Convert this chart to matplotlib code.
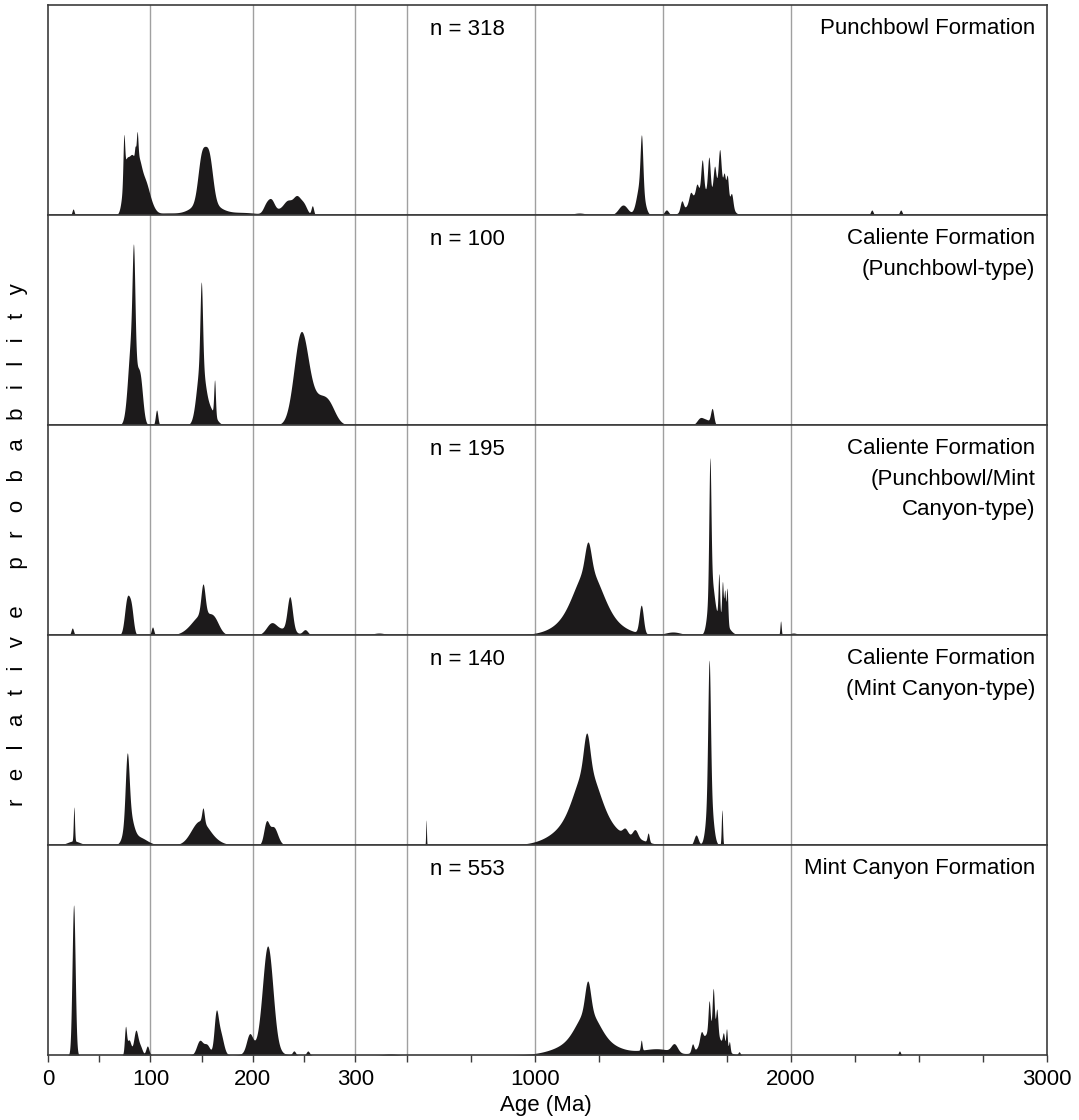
import numpy as np
import matplotlib
matplotlib.use('Agg')
import matplotlib.pyplot as plt

plt.rcParams['font.family'] = ['Liberation Sans', 'DejaVu Sans']

# peak components: age (Ma), height, spread (Ma)
punchbowl_ages = [24.5, 74, 76, 82, 85, 87, 88, 94, 100, 149.5, 153.5, 157.5, 153.5, 115, 190,
                  213, 218, 226, 234, 243, 250, 258,
                  1174, 1417, 1412, 1345, 1514, 1574, 1608, 1633, 1654, 1680, 1702, 1722, 1740,
                  1752, 1769, 1650, 1730, 2316, 2429]
punchbowl_heights = [6, 40, 48, 48, 10, 25, 42, 30, 8, 38, 15, 38, 14, 2, 2.5,
                     9, 12, 5, 12, 18, 8, 9,
                     2, 50, 32, 10, 5, 10, 8, 8, 30, 35, 22, 32, 12,
                     18, 12, 25, 30, 5, 5]
punchbowl_widths = [1.0, 0.8, 3, 3, 0.6, 0.8, 3, 4, 4, 3.5, 3.5, 3.5, 12, 12, 15,
                    3, 3, 5, 4, 4, 3, 1.2,
                    25, 5, 14, 18, 8, 6, 6, 5, 5, 5, 5, 5, 4,
                    4, 5, 40, 25, 5, 5]

cal_pb_ages = [83.5, 81.5, 90, 86, 106, 149.6, 149, 162.6, 158, 247, 265, 275,
               1645, 1693, 1670]
cal_pb_heights = [95, 80, 35, 20, 15, 80, 60, 35, 15, 90, 25, 10,
                  6, 15, 5]
cal_pb_widths = [1.3, 3.5, 2.5, 4, 1.2, 1.2, 4, 0.8, 5, 7, 9, 6,
                 12, 6, 15]

cal_mix_ages = [23.7, 77.3, 81.4, 102, 151.3, 151, 162, 140, 218, 236, 232, 251, 323,
                1208, 1208, 1208, 1416, 1540, 1684, 1688, 1719, 1733, 1742, 1751, 1725,
                1960, 2010]
cal_mix_heights = [7, 36, 22, 8, 30, 18, 12, 5, 11, 33, 6, 5, 2,
                   27, 40, 26, 28, 3, 125, 50, 42, 36, 30, 36, 18,
                   14, 2]
cal_mix_widths = [1.2, 2.5, 2, 1.2, 2, 8, 5, 8, 5, 2.5, 8, 2.5, 6,
                  12, 50, 90, 8, 30, 4, 12, 3, 3, 3, 3, 25,
                  2.5, 15]

cal_mc_ages = [25.3, 25, 77.3, 78.5, 88, 151.3, 147, 155, 213, 220,
               576, 1203, 1203, 1203, 1353, 1392, 1443, 1400, 1681, 1682, 1630, 1731]
cal_mc_heights = [34, 4, 60, 30, 8, 14, 18, 8, 20, 18,
                  25, 35, 45, 32, 6, 8, 9, 3, 130, 55, 10, 35]
cal_mc_widths = [0.6, 6, 1.8, 4, 8, 1.2, 8, 10, 2.5, 4,
                 1.5, 12, 45, 95, 10, 10, 4, 40, 5, 12, 8, 2.5]

mint_ages = [25, 75.6, 79, 85.7, 90, 97, 148, 155, 164, 168, 196.7, 214.5, 210, 240, 253.6, 334,
             1207, 1207, 1207, 1480, 1416, 1545, 1616, 1650, 1681, 1697, 1711,
             1737, 1749, 1760, 1690, 1798, 2424]
mint_heights = [150, 25, 15, 24, 8, 9, 14, 10, 35, 22, 17, 100, 10, 4, 4, 1,
                30, 27, 17, 6, 10, 8, 8, 10, 30, 42, 25,
                12, 20, 10, 25, 3, 4]
mint_widths = [1.5, 1, 2, 2, 2, 1.5, 3, 3, 2, 3, 3, 5, 10, 1.5, 1.5, 6,
               11, 42, 95, 60, 3, 12, 5, 6, 4, 4, 4,
               4, 3, 3, 35, 4, 4]

panel_names = ['Punchbowl Formation',
               'Caliente Formation\n(Punchbowl-type)',
               'Caliente Formation\n(Punchbowl/Mint\nCanyon-type)',
               'Caliente Formation\n(Mint Canyon-type)',
               'Mint Canyon Formation']
panel_n = [318, 100, 195, 140, 553]
panel_peaks = [(punchbowl_ages, punchbowl_heights, punchbowl_widths),
               (cal_pb_ages, cal_pb_heights, cal_pb_widths),
               (cal_mix_ages, cal_mix_heights, cal_mix_widths),
               (cal_mc_ages, cal_mc_heights, cal_mc_widths),
               (mint_ages, mint_heights, mint_widths)]

major_ticks = [0, 100, 200, 300, 1000, 2000, 3000]
minor_ticks = [50, 150, 250, 350, 750, 1250, 1500, 1750, 2250, 2500, 2750]
grid_ages = [100, 200, 300, 500, 1000, 1500, 2000]


def to_u(age):
    # broken age axis: 0-350 Ma linear, then 500-3000 Ma compressed 4x
    age = np.asarray(age, dtype=float)
    return np.where(age <= 350, age, 350 + (age - 500) / 4.0)


def density(x, ages, heights, widths):
    y = np.zeros_like(x)
    for a, h, w in zip(ages, heights, widths):
        y += h * np.exp(-0.5 * ((x - a) / w) ** 2)
    return y


fig = plt.figure(figsize=(10.79, 11.2), dpi=100)
W, H = 1079.0, 1120.0
left_px, right_px = 48, 1047
tops = [5, 215, 425, 635, 845]
panel_h = 210

x_young = np.arange(0, 350.01, 0.05)
x_old = np.arange(500, 3000.01, 0.2)
fill_col = '#1c1a1b'
spine_col = '#3c3c3c'

for i, (name, n, (ages, hts, wds)) in enumerate(zip(panel_names, panel_n, panel_peaks)):
    ax = fig.add_axes([left_px / W, 1 - (tops[i] + panel_h) / H,
                       (right_px - left_px) / W, panel_h / H])
    ax.set_xlim(0, float(to_u(3000)))
    ax.set_ylim(0, panel_h)
    for g in grid_ages:
        ax.axvline(float(to_u(g)), color='#a0a0a0', lw=1.0, zorder=0)
    for xs in (x_young, x_old):
        ax.fill_between(to_u(xs), density(xs, ages, hts, wds), 0,
                        color=fill_col, lw=0, zorder=2)
    ax.text(0.382, 0.885, 'n = %d' % n, transform=ax.transAxes,
            ha='left', va='center', fontsize=16, zorder=4)
    ax.text(0.988, 0.94, name, transform=ax.transAxes, ha='right', va='top',
            fontsize=16, linespacing=1.62, zorder=4,
            bbox=dict(facecolor='white', edgecolor='none', pad=3))
    for s in ax.spines.values():
        s.set_color(spine_col)
        s.set_linewidth(1.2)
    ax.set_yticks([])
    if i < 4:
        ax.set_xticks([])
    else:
        ax.set_xticks(to_u(major_ticks))
        ax.set_xticklabels([str(t) for t in major_ticks], fontsize=16)
        ax.set_xticks(to_u(minor_ticks), minor=True)
        ax.tick_params(axis='x', which='both', direction='out', length=5,
                       width=1, color=spine_col, pad=5)

fig.text(546 / W, 1 - 1106 / H, 'Age (Ma)', ha='center', va='center', fontsize=16)
ylab = '   '.join(list('relative')) + '      ' + '   '.join(list('probability'))
fig.text(18 / W, 1 - 545 / H, ylab, rotation=90, ha='center', va='center', fontsize=16)

fig.savefig('out.png', dpi=100)
